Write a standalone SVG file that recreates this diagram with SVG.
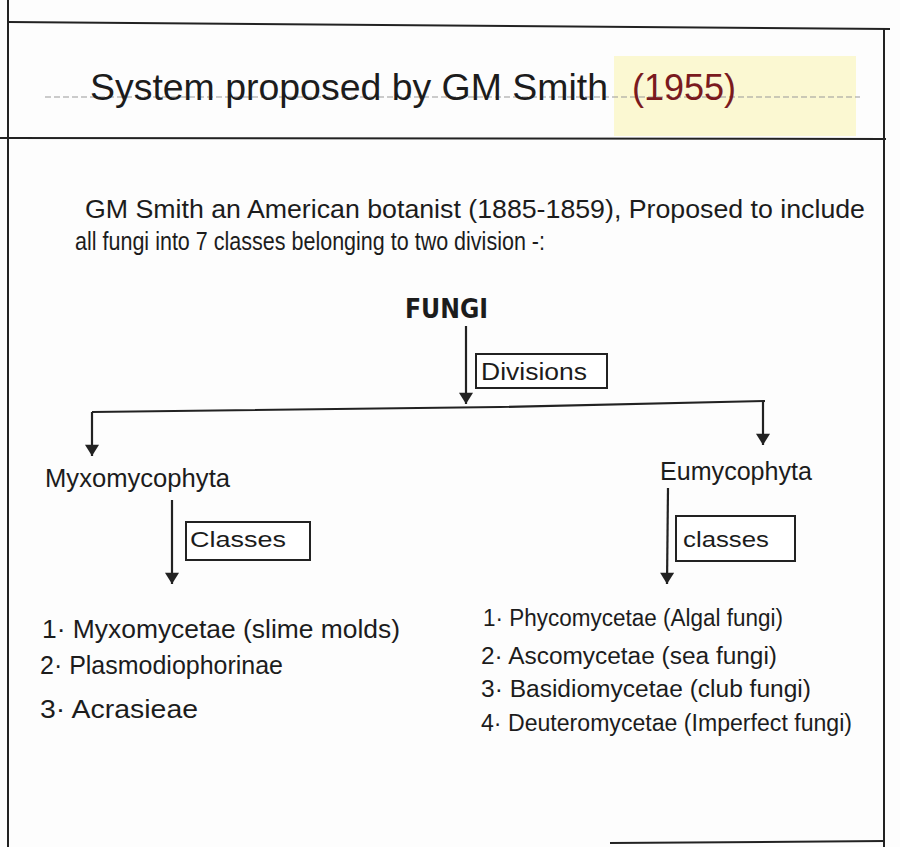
<svg xmlns="http://www.w3.org/2000/svg" width="900" height="847" viewBox="0 0 900 847">
<defs>
<marker id="ah" viewBox="0 0 10 10" refX="9" refY="5" markerWidth="14" markerHeight="14" markerUnits="userSpaceOnUse" orient="auto">
<path d="M1,0 L9,5 L1,10 Z" fill="#222"/>
</marker>
<style>
.t{font-family:"Liberation Sans","Open Sans",sans-serif;fill:#1c1c1c}
.frame{stroke:#222;stroke-width:2;fill:none}
.rule{stroke:#999;stroke-width:1;fill:none;stroke-dasharray:6 3}
.box{stroke:#222;stroke-width:2;fill:#fff}
.con{stroke:#222;stroke-width:2.2;fill:none}
</style>
</defs>
<rect width="900" height="847" fill="#fdfdfd"/>
<g id="page">
<path class="frame" d="M8,0 L8,847"/>
<path class="frame" d="M8,22 L890,29"/>
<path class="frame" d="M884,28 L884,847"/>
<path class="frame" d="M0,138 L886,139"/>
<path class="frame" d="M610,843 L885,841"/>
<rect x="614" y="56" width="242" height="80" fill="#fbf8d2"/>
<path class="rule" d="M45,97 L860,97"/>
</g>
<g id="title">
<text class="t" x="90" y="100" font-size="37" textLength="518" lengthAdjust="spacingAndGlyphs">System proposed by GM Smith</text>
<text class="t" x="632" y="100" font-size="37" style="fill:#7a1a1e" textLength="104" lengthAdjust="spacingAndGlyphs">(1955)</text>
</g>
<g id="intro">
<text class="t" x="85" y="218" font-size="25" textLength="780" lengthAdjust="spacingAndGlyphs">GM Smith an American botanist (1885-1859), Proposed to include</text>
<text class="t" x="75" y="250" font-size="25" textLength="470" lengthAdjust="spacingAndGlyphs">all fungi into 7 classes belonging to two division -:</text>
</g>
<g id="connectors">
<path class="con" d="M466,326 L466,404" marker-end="url(#ah)"/>
<path class="con" d="M92,412 L500,407 L765,401"/>
<path class="con" d="M92,412 L92,456" marker-end="url(#ah)"/>
<path class="con" d="M763,401 L763,445" marker-end="url(#ah)"/>
<path class="con" d="M172,500 L172,584" marker-end="url(#ah)"/>
<path class="con" d="M668,488 L667,584" marker-end="url(#ah)"/>
</g>
<g id="fungi">
<text class="t" x="405" y="318" font-size="27" font-weight="bold" textLength="83" lengthAdjust="spacingAndGlyphs" style="font-family:'DejaVu Sans Condensed','Liberation Sans',sans-serif">FUNGI</text>
</g>
<g id="divisions">
<rect class="box" x="476" y="354" width="131" height="34"/>
<text class="t" x="481" y="380" font-size="23" textLength="106" lengthAdjust="spacingAndGlyphs">Divisions</text>
</g>
<g id="myxomycophyta">
<text class="t" x="45" y="487" font-size="25" textLength="185" lengthAdjust="spacingAndGlyphs">Myxomycophyta</text>
</g>
<g id="eumycophyta">
<text class="t" x="660" y="480" font-size="25" textLength="152" lengthAdjust="spacingAndGlyphs">Eumycophyta</text>
</g>
<g id="classes-left">
<rect class="box" x="186" y="522" width="124" height="38"/>
<text class="t" x="190" y="547" font-size="22" textLength="96" lengthAdjust="spacingAndGlyphs">Classes</text>
</g>
<g id="classes-right">
<rect class="box" x="676" y="516" width="119" height="45"/>
<text class="t" x="683" y="547" font-size="22" textLength="86" lengthAdjust="spacingAndGlyphs">classes</text>
</g>
<g id="list-left">
<text class="t" x="42" y="638" font-size="25" textLength="358" lengthAdjust="spacingAndGlyphs">1· Myxomycetae (slime molds)</text>
<text class="t" x="40" y="674" font-size="25" textLength="243" lengthAdjust="spacingAndGlyphs">2· Plasmodiophorinae</text>
<text class="t" x="40" y="718" font-size="25" textLength="158" lengthAdjust="spacingAndGlyphs">3· Acrasieae</text>
</g>
<g id="list-right">
<text class="t" x="483" y="626" font-size="23" textLength="300" lengthAdjust="spacingAndGlyphs">1· Phycomycetae (Algal fungi)</text>
<text class="t" x="481" y="664" font-size="23" textLength="296" lengthAdjust="spacingAndGlyphs">2· Ascomycetae (sea fungi)</text>
<text class="t" x="481" y="697" font-size="23" textLength="330" lengthAdjust="spacingAndGlyphs">3· Basidiomycetae (club fungi)</text>
<text class="t" x="481" y="731" font-size="23" textLength="371" lengthAdjust="spacingAndGlyphs">4· Deuteromycetae (Imperfect fungi)</text>
</g>
</svg>
